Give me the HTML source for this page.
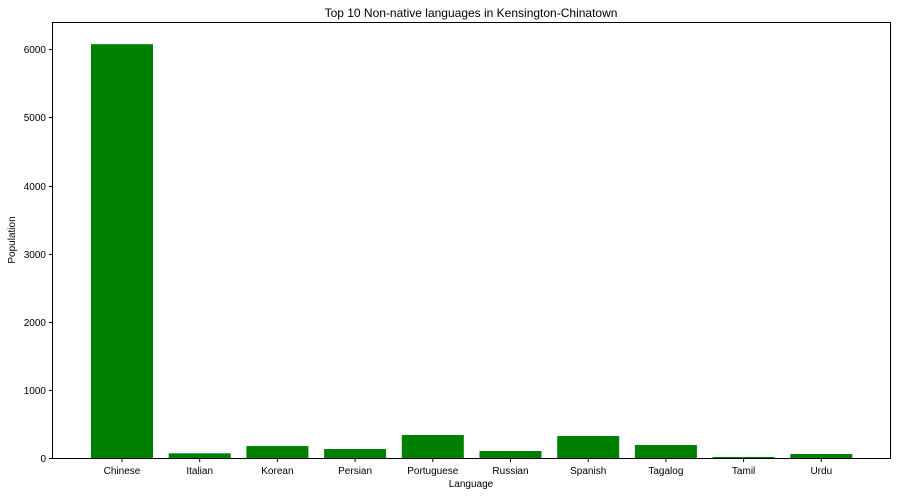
<!DOCTYPE html>
<html><head><meta charset="utf-8"><style>
body{margin:0;background:#fff;font-family:"Liberation Sans","DejaVu Sans",sans-serif}
</style></head><body>
<svg id="chart" width="901" height="496" xmlns="http://www.w3.org/2000/svg">
<rect width="901" height="496" fill="#fff"/>
<text x="471" y="17" font-size="12" text-anchor="middle">Top 10 Non-native languages in Kensington-Chinatown</text>
<text x="471" y="487" font-size="10" text-anchor="middle">Language</text>
<text x="15" y="240" font-size="10" text-anchor="middle" transform="rotate(-90 15 240)">Population</text>
<g id="bars"></g><g id="ticks"></g>
<rect x="52.5" y="22.5" width="838" height="436" fill="none" stroke="#000" stroke-width="1"/>
</svg>
<script>
const categories=["Chinese","Italian","Korean","Persian","Portuguese","Russian","Spanish","Tagalog","Tamil","Urdu"];
const values=[6075,73,180,136,342,107,327,195,20,63];
const yTicks=[0,1000,2000,3000,4000,5000,6000];
const NS="http://www.w3.org/2000/svg";
const y0=458.3, pxPer=68.17/1000;
function yS(v){return y0-v*pxPer;}
function xS(i){return 122+77.7*i;}
const bars=document.getElementById('bars'), ticks=document.getElementById('ticks');
function mk(tag,attrs,parent){const e=document.createElementNS(NS,tag);for(const k in attrs)e.setAttribute(k,attrs[k]);parent.appendChild(e);return e;}
categories.forEach((c,i)=>{
  const r=mk('rect',{x:xS(i)-31,y:yS(values[i]),width:62,height:y0-yS(values[i]),fill:'#008000'},bars);
  
  
  const t=mk('line',{x1:xS(i),x2:xS(i),y1:458.5,y2:462,stroke:'#000'},ticks);
  
  
  const l=mk('text',{x:xS(i),y:474,'font-size':10,'text-anchor':'middle'},ticks);
  l.textContent=c;
  
  
});
yTicks.forEach(v=>{
  const yy=Math.round(yS(v))+0.5;
  const t=mk('line',{x1:49,x2:52.5,y1:yy,y2:yy,stroke:'#000'},ticks);
  
  
  const l=mk('text',{x:46,y:yy+3.5,'font-size':10,'text-anchor':'end'},ticks);
  l.textContent=v;
  
  
});
</script>
</body></html>
